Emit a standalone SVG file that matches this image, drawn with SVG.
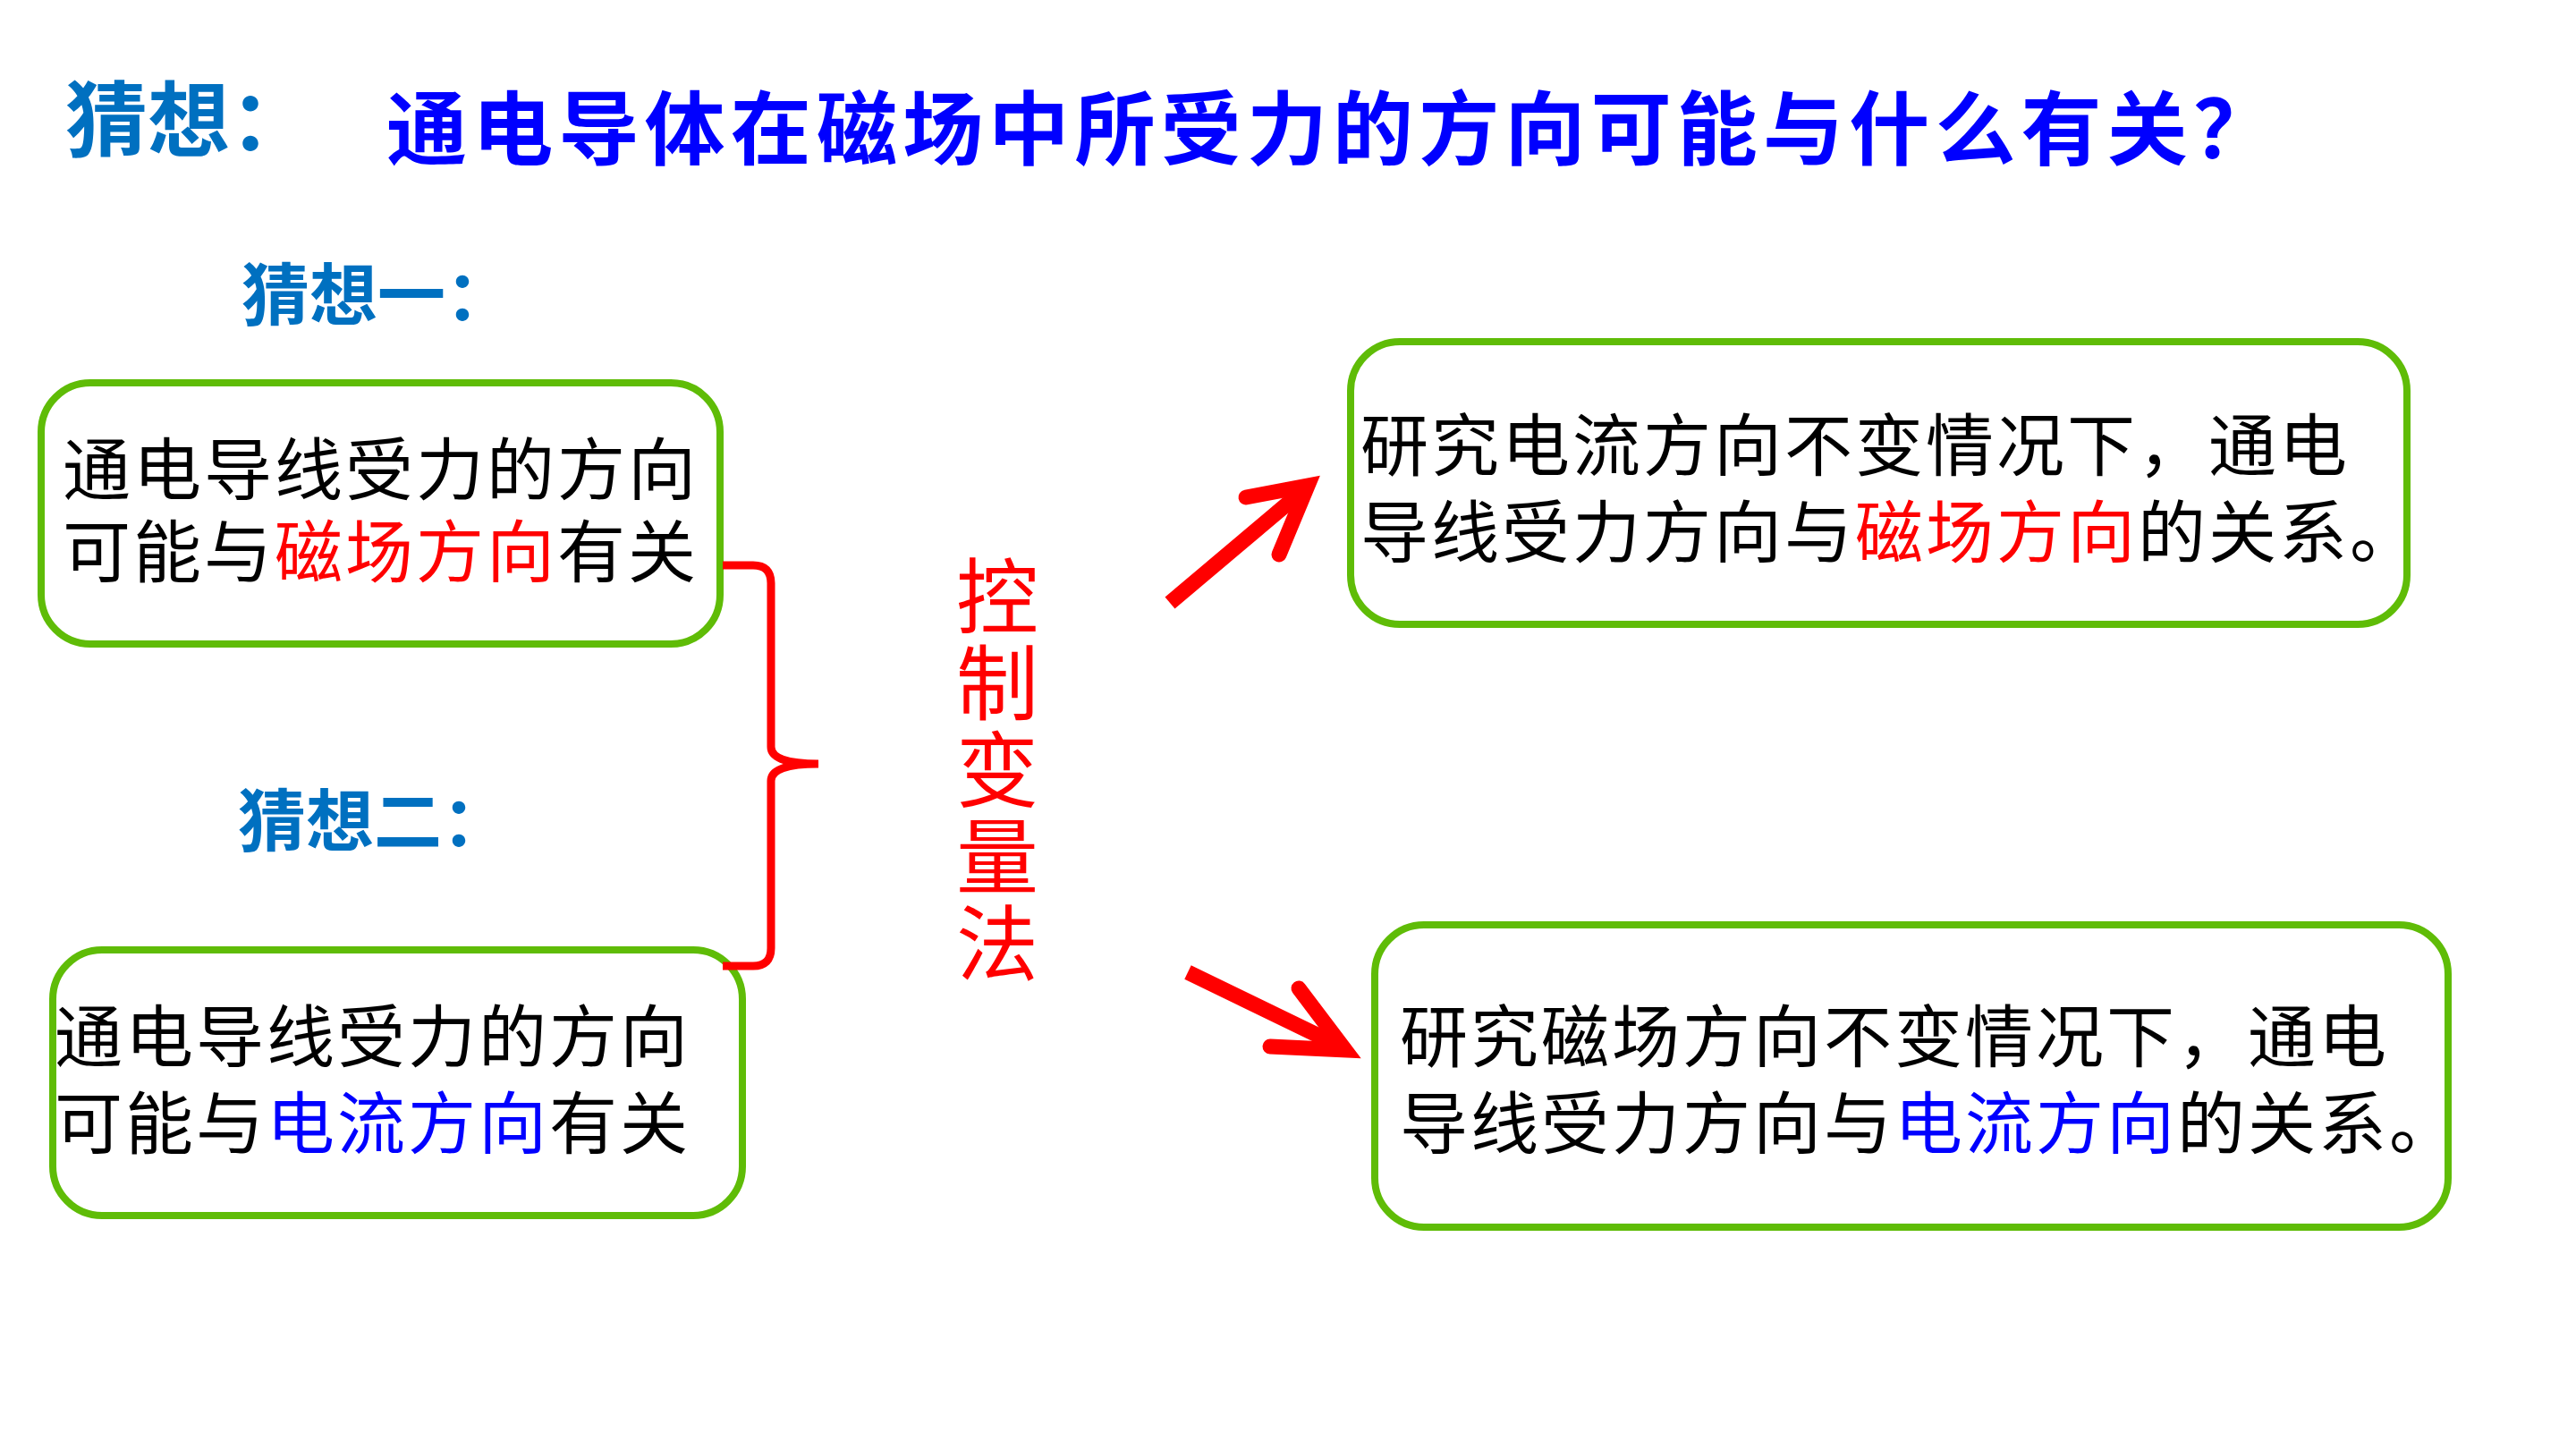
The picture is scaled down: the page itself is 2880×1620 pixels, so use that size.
<svg xmlns="http://www.w3.org/2000/svg" width="2880" height="1620" viewBox="0 0 2880 1620">
<style>
.cjk{font-family:"Noto Sans CJK SC","Noto Sans",sans-serif;}
.lbl{fill:#0070C0;font-size:76px;font-weight:bold;}
.box{fill:#FFFFFF;stroke:#5FBC07;stroke-width:8;}
.body{font-size:76px;fill:#000000;letter-spacing:3px;}
.red{fill:#FF0000;}
.blue{fill:#0000FF;}
.arrow{fill:none;stroke:#FF0000;stroke-width:17;}
</style>
<rect width="2880" height="1620" fill="#FFFFFF"/>
<g id="title">
<text class="cjk" x="73" y="168" font-size="92" font-weight="bold" fill="#0070C0">猜想：</text>
<text class="cjk" x="432" y="177" font-size="90" font-weight="bold" fill="#0000FF" textLength="2110" lengthAdjust="spacing">通电导体在磁场中所受力的方向可能与什么有关？</text>
</g>
<g id="label1"><text class="cjk lbl" x="270" y="358">猜想一：</text></g>
<g id="label2"><text class="cjk lbl" x="266" y="946">猜想二：</text></g>
<g id="node1">
<rect class="box" x="46" y="428" width="759" height="292" rx="55"/>
<text class="cjk body" x="70" y="553">通电导线受力的方向<tspan x="70" y="645">可能与</tspan><tspan class="red">磁场方向</tspan><tspan>有关</tspan></text>
</g>
<g id="node2">
<rect class="box" x="59" y="1062" width="771" height="297" rx="55"/>
<text class="cjk body" x="61" y="1187">通电导线受力的方向<tspan x="61" y="1284">可能与</tspan><tspan class="blue">电流方向</tspan><tspan>有关</tspan></text>
</g>
<g id="method">
<text class="cjk red" x="1115" y="620" font-size="92" writing-mode="tb" letter-spacing="5">控制变量法</text>
</g>
<g id="node3">
<rect class="box" x="1510" y="382" width="1181" height="316" rx="55"/>
<text class="cjk body" x="1521" y="526">研究电流方向不变情况下，通电<tspan x="1521" y="623">导线受力方向与</tspan><tspan class="red">磁场方向</tspan><tspan>的关系。</tspan></text>
</g>
<g id="node4">
<rect class="box" x="1537" y="1034" width="1200" height="338" rx="55"/>
<text class="cjk body" x="1565" y="1187">研究磁场方向不变情况下，通电<tspan x="1565" y="1284">导线受力方向与</tspan><tspan class="blue">电流方向</tspan><tspan>的关系。</tspan></text>
</g>
<g id="connectors">
<path d="M808 632 L842 632 Q862 632 862 652 L862 835 Q862 854 915 854 Q862 854 862 873 L862 1060 Q862 1080 842 1080 L808 1080" fill="none" stroke="#FF0000" stroke-width="9"/>
<line class="arrow" x1="1308" y1="674" x2="1455" y2="550"/>
<path class="arrow" d="M1393 556 L1462 543 L1430 620" stroke-linecap="round" stroke-linejoin="miter"/>
<line class="arrow" x1="1328" y1="1087" x2="1495" y2="1168"/>
<path class="arrow" d="M1452 1105 L1504 1174 L1420 1170" stroke-linecap="round" stroke-linejoin="miter"/>
</g>
</svg>
